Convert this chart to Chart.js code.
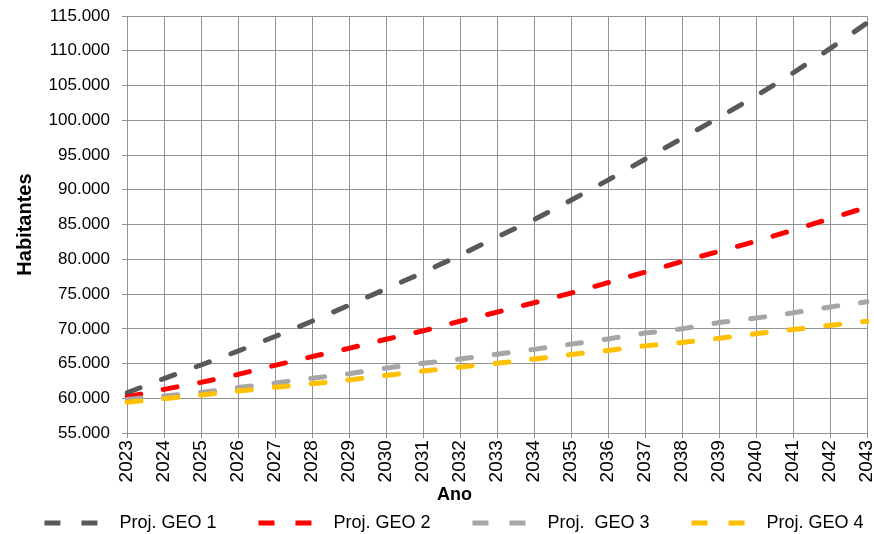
<!DOCTYPE html>
<html lang="pt">
<head>
    <meta charset="UTF-8">
    <title>Projeção populacional</title>
    <script src="https://cdn.jsdelivr.net/npm/chart.js"></script>
    <style>
        body { margin: 0; background: #ffffff; }
        canvas { display: block; }
    </style>
</head>
<body>
    <canvas id="chart" width="874" height="534"></canvas>
    <script>
        // dados
        const anos = ['2023', '2024', '2025', '2026', '2027', '2028', '2029', '2030', '2031', '2032',
            '2033', '2034', '2035', '2036', '2037', '2038', '2039', '2040', '2041', '2042', '2043'];
        const geo1 = [60800, 62850, 64800, 66800, 68900, 71100, 73400, 75750, 78100, 80600,
            83200, 85700, 88500, 91400, 94400, 97400, 100400, 103500, 106800, 110300, 114000];
        const geo2 = [60200, 61300, 62300, 63450, 64750, 66000, 67200, 68500, 69700, 71100,
            72400, 73750, 75150, 76650, 78150, 79700, 81150, 82600, 84200, 85850, 87500];
        const geo3 = [59850, 60350, 60850, 61550, 62200, 62900, 63550, 64350, 65050, 65650,
            66350, 67050, 67800, 68550, 69400, 70000, 70900, 71550, 72300, 73150, 73900];
        const geo4 = [59450, 59950, 60500, 61050, 61600, 62100, 62650, 63300, 63950, 64500,
            65050, 65650, 66300, 66900, 67550, 68050, 68650, 69300, 69900, 70500, 71100];
        const nomes = ['Proj. GEO 1', 'Proj. GEO 2', 'Proj.  GEO 3', 'Proj. GEO 4'];
        const cores = ['#595959', '#ff0000', '#a6a6a6', '#ffc000'];

        const FONT = '"Liberation Sans", Arial, sans-serif';
        const gridMajor = '#939393';
        const gridMinor = '#d6d6d6';

        function serie(i, valores) {
            return {
                label: nomes[i],
                data: valores,
                borderColor: cores[i],
                backgroundColor: cores[i],
                borderWidth: 5,
                borderDash: [14, 23],
                borderCapStyle: 'round',
                pointRadius: 0,
                fill: false,
                tension: 0,
                order: 4 - i
            };
        }

        new Chart(document.getElementById('chart').getContext('2d'), {
            type: 'line',
            data: {
                labels: anos,
                datasets: [serie(0, geo1), serie(1, geo2), serie(2, geo3), serie(3, geo4)]
            },
            options: {
                responsive: false,
                animation: false,
                devicePixelRatio: 1,
                layout: { padding: { top: 16, left: 0, right: 0, bottom: -8 } },
                scales: {
                    x: {
                        offset: false,
                        // a margem direita fica fixa em 7px
                        afterFit: s => { s.paddingLeft = 0; s.paddingRight = 7; },
                        grid: { color: gridMajor, tickLength: 5, tickColor: gridMajor },
                        border: { color: gridMajor },
                        ticks: {
                            autoSkip: false, minRotation: 90, maxRotation: 90, padding: 2,
                            color: '#000', font: { family: FONT, size: 19 }
                        },
                        title: {
                            display: true,
                            text: 'Ano' + '\u00a0'.repeat(17),
                            color: '#000',
                            font: { family: FONT, size: 18, weight: 'bold' },
                            padding: { top: 0, bottom: 0 }
                        }
                    },
                    y: {
                        min: 55000,
                        max: 115000,
                        afterFit: s => { s.width = 127; s.paddingTop = 0; s.paddingBottom = 0; },
                        grid: {
                            tickLength: 5,
                            color: c => (c.tick.value % 5000 === 0 ? gridMajor : gridMinor),
                            tickColor: c => (c.tick.value % 5000 === 0 ? gridMajor : 'rgba(0,0,0,0)')
                        },
                        border: { color: gridMajor },
                        ticks: {
                            stepSize: 2500, padding: 12, color: '#000',
                            font: { family: FONT, size: 17 },
                            callback: v => (v % 5000 === 0 ? (v / 1000).toFixed(3) : '')
                        },
                        title: {
                            display: true,
                            text: 'Habitantes',
                            color: '#000',
                            font: { family: FONT, size: 20, weight: 'bold' },
                            padding: { top: 13, bottom: 0 }
                        }
                    }
                },
                plugins: {
                    tooltip: { enabled: false },
                    legend: {
                        position: 'bottom',
                        labels: {
                            usePointStyle: true,
                            pointStyle: 'line',
                            pointStyleWidth: 100,
                            padding: 8,
                            color: '#000',
                            font: { family: FONT, size: 18 },
                            sort: (a, b) => a.datasetIndex - b.datasetIndex,
                            generateLabels: chart => Chart.defaults.plugins.legend.labels.generateLabels(chart).map(l => {
                                l.pointStyle = 'line';
                                l.lineDash = [16, 21, 16, 47];
                                l.lineDashOffset = 66;
                                return l;
                            })
                        }
                    }
                }
            }
        });
    </script>
</body>
</html>
